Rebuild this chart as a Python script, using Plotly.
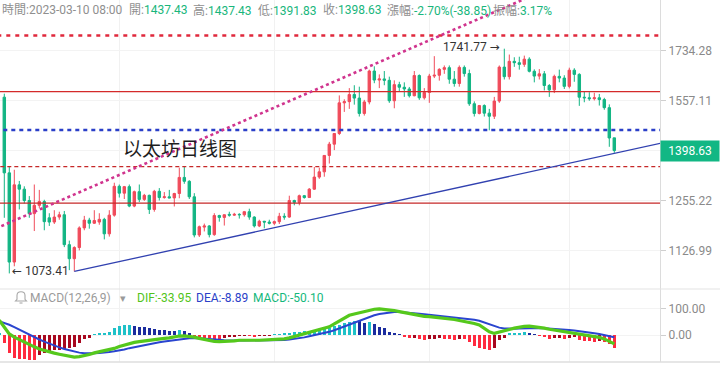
import math
import plotly.graph_objects as go

# ---------------- data (ETH daily, 2022-11-08 .. 2023-03-10) ----------------
opens = [1569,1333,1100,1299,1287,1256,1221,1243,1253,1210,1199,1212,1218,1142,1108,1135,1184,1204,1196,1199,
         1206,1169,1217,1295,1276,1294,1241,1280,1259,1270,1232,1281,1264,1266,1263,1275,1320,1309,1266,1166,
         1186,1189,1167,1216,1211,1219,1217,1219,1218,1226,1212,1189,1201,1199,1196,1200,1214,1212,1256,1251,
         1269,1264,1287,1321,1336,1384,1418,1451,1550,1554,1578,1566,1515,1553,1660,1628,1632,1627,1557,1612,
         1603,1597,1574,1644,1567,1585,1642,1645,1666,1672,1631,1616,1673,1651,1547,1515,1541,1516,1506,1556,
         1674,1640,1695,1690,1684,1703,1659,1642,1650,1609,1594,1641,1635,1606,1663,1648,1569,1567,1564,1567,
         1561,1534,1437.43]
highs = [1581,1350,1342,1310,1295,1268,1300,1285,1258,1222,1230,1226,1228,1152,1138,1188,1215,1210,1230,1222,
         1210,1230,1305,1300,1296,1300,1283,1300,1274,1272,1285,1290,1279,1285,1277,1348,1352,1312,1276,1190,
         1195,1191,1222,1218,1219,1226,1223,1222,1228,1234,1214,1205,1202,1205,1203,1223,1222,1269,1258,1272,
         1271,1290,1350,1348,1385,1425,1452,1575,1562,1600,1610,1605,1560,1665,1677,1648,1660,1640,1627,1622,
         1620,1604,1660,1648,1600,1650,1714,1670,1680,1680,1660,1680,1680,1665,1555,1543,1545,1530,1570,1680,
         1741.77,1720,1710,1712,1716,1710,1666,1667,1660,1614,1647,1665,1645,1672,1670,1652,1588,1586,1584,1580,
         1567,1545,1437.43]
lows = [1210,1073.41,1090,1232,1248,1210,1176,1236,1178,1189,1194,1205,1136,1081,1078,1128,1178,1182,1194,1192,
        1155,1162,1213,1264,1260,1238,1238,1252,1255,1220,1226,1256,1261,1262,1240,1262,1302,1260,1160,1161,
        1175,1160,1164,1200,1190,1213,1215,1208,1213,1205,1185,1186,1183,1193,1191,1194,1205,1210,1243,1243,
        1261,1263,1285,1316,1322,1360,1400,1446,1520,1530,1544,1505,1508,1545,1617,1600,1610,1550,1532,1590,
        1570,1568,1572,1560,1561,1550,1635,1626,1650,1615,1605,1605,1640,1540,1505,1512,1505,1461,1497,1550,
        1630,1630,1675,1665,1675,1655,1620,1630,1592,1570,1583,1620,1597,1599,1622,1540,1552,1557,1558,1541,
        1527,1410,1391.83]
closes = [1333,1100,1299,1287,1256,1221,1243,1253,1200,1199,1212,1218,1142,1108,1135,1184,1204,1196,1203,1206,
          1169,1217,1295,1276,1294,1241,1280,1259,1270,1232,1281,1264,1266,1263,1275,1320,1309,1266,1166,1187,
          1189,1167,1216,1211,1218,1217,1219,1218,1226,1212,1189,1201,1199,1196,1200,1214,1212,1256,1251,1269,
          1264,1287,1321,1336,1384,1418,1451,1550,1554,1578,1566,1515,1553,1660,1628,1632,1627,1557,1612,1603,
          1597,1574,1644,1567,1585,1642,1645,1666,1672,1631,1616,1673,1651,1547,1515,1541,1516,1506,1556,1674,
          1640,1695,1690,1684,1703,1659,1642,1650,1609,1594,1641,1635,1606,1663,1648,1569,1567,1564,1567,1561,
          1534,1437,1398.63]

# MACD values start one day earlier (2022-11-07), index -1
dif = [56,31,4,-8,-18,-28,-37,-45,-53,-59,-65,-69,-73,-77,-80,-84,-82,-79,-74,-68,-64,
       -61,-58,-51,-44,-38,-33,-28,-25,-22,-19,-17,-15,-13,-11,-7,-4,-3,-4,-8,-13,
       -17,-22,-24,-25,-25,-24,-22,-20,-19,-19,-20,-20,-19,-19,-19,-18,-15,-11,-6,-1,
       4,9,14,18,24,31,42,53,65,75,80,85,90,95,98,99,98,95,93,89,
       85,80,77,72,71,70,68,67,65,63,59,55,52,50,44,38,26,12,6,12,
       17,21,26,31,33,34,32,29,26,22,19,16,13,11,9,6,3,0,-4,-9,
       -15,-25,-33.95]
dea = [52,46,39,30,20,10,1,-8,-17,-25,-33,-40,-47,-53,-58,-63,-67,-69,-70,-69,-68,
       -67,-65,-62,-59,-55,-50,-46,-42,-38,-34,-31,-28,-25,-22,-19,-16,-14,-12,-11,-12,
       -13,-15,-17,-18,-20,-21,-21,-21,-21,-21,-21,-21,-20,-20,-20,-20,-19,-17,-15,-12,
       -9,-5,-1,3,7,12,18,25,33,41,49,56,63,69,75,80,83,85,87,87,
       86,85,83,81,79,77,75,73,72,70,68,66,63,61,58,54,48,40,33,28,
       25,24,24,25,26,27,27,27,26,25,24,22,21,19,17,15,12,10,7,4,
       0,-4,-8.89]
macd_hist = [7,-32,-70,-88,-91,-93,-94,-95,-76,-70,-66,-57,-56,-54,-51,-44,-32,-16,-10,3,6,
             6,10,25,34,37,38,34,32,29,25,22,19,18,15,14,20,14,6,-6,-10,
             -11,-13,-14,-15,-11,-8,-5,-3,-2,-3,-4,-3,-2,-1,1,2,4,7,10,13,
             15,17,19,21,24,28,34,38,44,50,55,52,47,50,41,32,25,13,6,2,
             -8,-12,-10,-16,-18,-16,-14,-12,-14,-16,-18,-14,-16,-26,-40,-48,-52,-57,-50,-20,
             -10,4,6,9,12,6,2,-3,-8,-14,-13,-12,-14,-12,-8,-18,-22,-24,-25,-24,
             -26,-35,-50.10]

idx = list(range(len(closes)))
macd_idx = list(range(-1, len(macd_hist) - 1))
month_starts = [23, 54, 85, 113]          # Dec 1, Jan 1, Feb 1, Mar 1

price_ticks = [1126.99, 1255.22, 1398.1, 1557.11, 1734.28]
price_tick_text = ["1126.99", "1255.22", "", "1557.11", "1734.28"]
macd_ticks = [0, 100]
macd_tick_text = ["0.00", "100.00"]

# drawn levels / trend lines (price anchors)
level_red_dot = 1792
level_red_solid_hi = 1588
level_blue_dot = 1462
level_red_dash = 1351
level_red_solid_lo = 1249
pink_x, pink_y = [-5, 110], [1164.3, 1993.3]
blue_x, blue_y = [14, 132], [1078, 1423.1]

last_price = 1398.63
low_mark = (1, 1073.41)
high_mark = (100, 1741.77)

# ---------------- styling ----------------
UP = "#f04b5b"
DOWN = "#13b584"
W, H = 720, 366
PLOT_W, PLOT_H = 660, 362
SPLIT = 289  # pixel y of pane separator


def pxx(x):
    return x / PLOT_W


def pxy(y):
    return (PLOT_H - y) / PLOT_H


fig = go.Figure()

XR = [-0.86, 131.14]
line_x = [-5, 140]


def hline(level, color, width, dash):
    fig.add_trace(go.Scatter(x=line_x, y=[level, level], mode="lines",
                             line=dict(color=color, width=width, dash=dash),
                             hoverinfo="skip", xaxis="x", yaxis="y"))


hline(level_red_solid_hi, "#d42a2a", 1.2, "solid")
hline(level_red_solid_lo, "#c62828", 1.2, "solid")
hline(level_red_dash, "#c62828", 1.2, "4px,3px")
hline(level_blue_dot, "#2a3fc8", 2.6, "4px,4px")
hline(level_red_dot, "#e0283c", 2.6, "4px,5px")

fig.add_trace(go.Scatter(x=blue_x, y=blue_y, mode="lines",
                         line=dict(color="#3141b0", width=1.3), hoverinfo="skip"))
fig.add_trace(go.Scatter(x=pink_x, y=pink_y, mode="lines",
                         line=dict(color="#d0348e", width=2.6, dash="dot"), hoverinfo="skip"))

fig.add_trace(go.Candlestick(
    x=idx, open=opens, high=highs, low=lows, close=closes,
    increasing=dict(line=dict(color=UP, width=1), fillcolor=UP),
    decreasing=dict(line=dict(color=DOWN, width=1), fillcolor=DOWN),
    whiskerwidth=0, hoverinfo="skip", xaxis="x", yaxis="y"))

# MACD histogram colours from sign and change
bar_colors = []
for i, v in enumerate(macd_hist):
    prev = macd_hist[i - 1] if i > 0 else 0
    if v >= 0:
        bar_colors.append("#1fc1c8" if v >= prev else "#1b2c9e")
    else:
        bar_colors.append("#ff2a3f" if v <= prev else "#a8081f")

fig.add_trace(go.Bar(x=macd_idx, y=macd_hist, marker=dict(color=bar_colors, line=dict(width=0)),
                     width=0.55, xaxis="x2", yaxis="y2", hoverinfo="skip"))
fig.add_trace(go.Scatter(x=macd_idx, y=dea, mode="lines", line=dict(color="#2a45cf", width=2),
                         xaxis="x2", yaxis="y2", hoverinfo="skip"))
fig.add_trace(go.Scatter(x=macd_idx, y=dif, mode="lines", line=dict(color="#55c81c", width=3.2),
                         xaxis="x2", yaxis="y2", hoverinfo="skip"))

dom_split = pxy(SPLIT)
ylog_top = math.log10(1734.28) + 50.7 * 0.0009355
ylog_bot = math.log10(1734.28) - (SPLIT - 50.7) * 0.0009355
mv_per_px = 1 / 0.263
macd_top = (335 - SPLIT) * mv_per_px
macd_bot = (335 - PLOT_H) * mv_per_px

axis_font = dict(family="Roboto, 'Noto Sans'", size=12, color="#8a8a8a")

fig.update_layout(
    width=W, height=H, margin=dict(l=0, r=W - PLOT_W, t=0, b=H - PLOT_H),
    paper_bgcolor="white", plot_bgcolor="white", showlegend=False, hovermode=False,
    bargap=0,
    xaxis=dict(domain=[0, 1], anchor="y", range=XR, tickvals=month_starts, showticklabels=False,
               ticks="", showgrid=True, gridcolor="#f1f1f1", zeroline=False,
               showline=False, rangeslider=dict(visible=False), fixedrange=True),
    yaxis=dict(domain=[dom_split, 1], anchor="x", type="log", range=[ylog_bot, ylog_top],
               side="right", tickvals=price_ticks, ticktext=price_tick_text,
               ticks="outside", ticklen=5, tickcolor="#cfcfcf", showline=True, linecolor="#dcdcdc",
               showgrid=True, gridcolor="#f3f3f3", zeroline=False, tickfont=axis_font),
    xaxis2=dict(domain=[0, 1], anchor="y2", matches="x", range=XR, tickvals=month_starts,
                showticklabels=False, ticks="", showgrid=True, gridcolor="#f1f1f1",
                zeroline=False, showline=False),
    yaxis2=dict(domain=[0, dom_split], anchor="x2", range=[macd_bot, macd_top], side="right",
                tickvals=macd_ticks, ticktext=macd_tick_text, ticks="outside", ticklen=5,
                tickcolor="#cfcfcf", showline=True, linecolor="#dcdcdc", showgrid=True,
                gridcolor="#f3f3f3", zeroline=False, tickfont=axis_font),
)

shapes = [
    dict(type="line", xref="paper", yref="paper", x0=0, x1=W / PLOT_W, y0=dom_split, y1=dom_split,
         line=dict(color="#e3e3e3", width=1.2)),
    dict(type="line", xref="paper", yref="paper", x0=0, x1=W / PLOT_W, y0=0, y1=0,
         line=dict(color="#dedede", width=1.5)),
    # bell icon
    dict(type="path", xref="paper", yref="paper",
         path=("M {a},{b} L {c},{b} L {d},{e} L {d},{f} Q {d},{g} {h},{g} Q {i},{g} {i},{f} L {i},{e} Z").format(
             a=pxx(15.5), b=pxy(301), c=pxx(26.5), d=pxx(25), e=pxy(299.3), f=pxy(295.5), g=pxy(291.8),
             h=pxx(21), i=pxx(17)),
         line=dict(color="#a8a8a8", width=1.1)),
    dict(type="line", xref="paper", yref="paper", x0=pxx(19.5), x1=pxx(22.5), y0=pxy(303), y1=pxy(303),
         line=dict(color="#a8a8a8", width=1.1)),
    # white tick inside the last-price tag
    dict(type="line", xref="paper", yref="y", x0=1, x1=pxx(665), y0=math.log10(last_price),
         y1=math.log10(last_price), line=dict(color="white", width=1), layer="above"),
]

ann = []
GRAY = "#8f8f8f"
VAL = "#19b67c"
HFONT = "Roboto, 'Noto Sans CJK TC'"


def head(x, label, value=None, vcolor=VAL):
    txt = f"<span style='color:{GRAY}'>{label}</span>"
    if value is not None:
        txt += f"<span style='color:{vcolor}'>{value}</span>"
    ann.append(dict(xref="paper", yref="paper", x=pxx(x), y=pxy(10), xanchor="left", yanchor="middle",
                    text=txt, showarrow=False, font=dict(family=HFONT, size=12, color=GRAY), borderpad=0))


head(1, "時間:2023-03-10 08:00")
head(128, "開:", "1437.43")
head(192, "高:", "1437.43")
head(257, "低:", "1391.83")
head(322, "收:", "1398.63")
head(386, "漲幅:", "-2.70%(-38.85)")
head(492, "振幅:", "3.17%")

# MACD legend
ann.append(dict(xref="paper", yref="paper", x=pxx(29), y=pxy(298), xanchor="left", yanchor="middle",
                text="MACD(12,26,9)", showarrow=False, font=dict(family=HFONT, size=12, color="#9a9a9a"),
                borderpad=0))
ann.append(dict(xref="paper", yref="paper", x=pxx(122.5), y=pxy(298.5), xanchor="center", yanchor="middle",
                text="▾", showarrow=False, font=dict(family="DejaVu Sans", size=11, color="#9a9a9a"),
                borderpad=0))
ann.append(dict(xref="paper", yref="paper", x=pxx(135.5), y=pxy(298), xanchor="left", yanchor="middle",
                text=f"DIF:{dif[-1]:.2f}", showarrow=False, font=dict(family=HFONT, size=12, color="#52c41a"),
                borderpad=0))
ann.append(dict(xref="paper", yref="paper", x=pxx(195), y=pxy(298), xanchor="left", yanchor="middle",
                text=f"DEA:{dea[-1]:.2f}", showarrow=False, font=dict(family=HFONT, size=12, color="#2a40c8"),
                borderpad=0))
ann.append(dict(xref="paper", yref="paper", x=pxx(251.5), y=pxy(298), xanchor="left", yanchor="middle",
                text=f"MACD:{macd_hist[-1]:.2f}", showarrow=False,
                font=dict(family=HFONT, size=12, color="#14b87c"), borderpad=0))

# chart title text
ann.append(dict(xref="paper", yref="paper", x=pxx(180), y=pxy(148), xanchor="center", yanchor="middle",
                text="以太坊日线图", showarrow=False,
                font=dict(family="'Noto Sans CJK SC'", size=19, color="#1e1e1e"), borderpad=0))

# low / high marks
ann.append(dict(xref="x", yref="y", x=low_mark[0], y=math.log10(low_mark[1]), xanchor="left",
                yanchor="middle", xshift=2, yshift=2, text=f"← {low_mark[1]:.2f}", showarrow=False,
                font=dict(family="Roboto, 'DejaVu Sans'", size=12, color="#333333"), borderpad=0))
ann.append(dict(xref="x", yref="y", x=high_mark[0], y=math.log10(high_mark[1]), xanchor="right",
                yanchor="middle", xshift=-3, yshift=2, text=f"{high_mark[1]:.2f} →", showarrow=False,
                font=dict(family="Roboto, 'DejaVu Sans'", size=12, color="#333333"), borderpad=0))

# last price tag
ann.append(dict(xref="paper", yref="y", x=1, y=math.log10(last_price), xanchor="left", yanchor="middle",
                text=f"{last_price:.2f}", showarrow=False, bgcolor="#12b784", width=58, height=20,
                font=dict(family="Roboto", size=12, color="white"), borderpad=0))

fig.update_layout(annotations=ann, shapes=shapes)

fig.write_html("out.html", config={"displayModeBar": False},
               post_script="document.body.style.margin='0px';document.body.style.overflow='hidden';")
